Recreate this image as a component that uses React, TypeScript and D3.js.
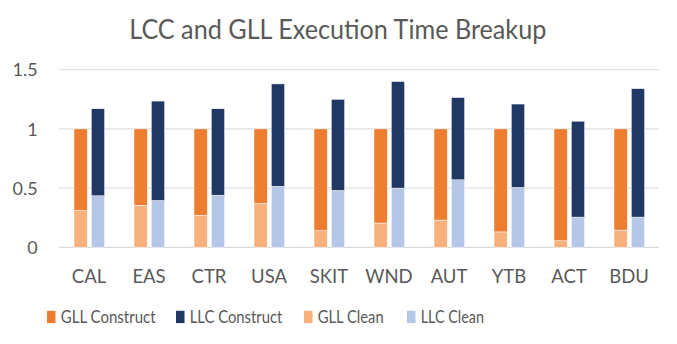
import React from "react";
import { scaleBand, scaleLinear } from "d3";

const categories = ["CAL", "EAS", "CTR", "USA", "SKIT", "WND", "AUT", "YTB", "ACT", "BDU"];
const gllClean = [0.31, 0.355, 0.27, 0.37, 0.14, 0.205, 0.23, 0.13, 0.055, 0.145];
const llcClean = [0.435, 0.395, 0.44, 0.515, 0.48, 0.5, 0.57, 0.505, 0.255, 0.255];
const llcTotal = [1.17, 1.235, 1.17, 1.38, 1.25, 1.4, 1.265, 1.21, 1.065, 1.34];
const yTicks = [0, 0.5, 1, 1.5];

const legend = [
  { label: "GLL Construct", color: "#ED7D31", x: 47, w: 95 },
  { label: "LLC Construct", color: "#1F3864", x: 176, w: 92.7 },
  { label: "GLL Clean", color: "#F8B07C", x: 304, w: 66 },
  { label: "LLC Clean", color: "#B4C7E7", x: 407, w: 63.3 },
];

const width = 677;
const height = 344;
const font = "Lato, 'Open Sans', sans-serif";

export default function App() {
  const x = scaleBand<string>().domain(categories).range([59, 659]);
  const y = scaleLinear().domain([0, 1.5]).range([247.3, 69.7]);
  const barW = 13.3;

  return (
    <svg width={width} height={height} style={{ position: "absolute", left: 0, top: 0, background: "#fff" }}>
      <text x={129.3} y={39.3} textLength={417} lengthAdjust="spacingAndGlyphs" fontFamily={font} fontSize={26} fill="#595959">
        LCC and GLL Execution Time Breakup
      </text>
      {yTicks.map((t) => (
        <g key={t}>
          <line x1={59} x2={659} y1={y(t)} y2={y(t)} stroke={t === 0 ? "#D0D0D0" : "#D9D9D9"} strokeWidth={1} />
          <text x={37.7} y={y(t) + 6.7} textAnchor="end" fontFamily={font} fontSize={18} fill="#595959">
            {t}
          </text>
        </g>
      ))}
      {categories.map((c, i) => {
        const x0 = (x(c) as number) + 15;
        const x1 = x0 + 17.3;
        const cx = (x(c) as number) + x.bandwidth() / 2;
        return (
          <g key={c}>
            <rect x={x0} y={y(gllClean[i])} width={barW} height={y(0) - y(gllClean[i])} fill="#F8B07C" stroke="#fff" strokeWidth={0.5} />
            <rect x={x0} y={y(1)} width={barW} height={y(gllClean[i]) - y(1)} fill="#ED7D31" stroke="#fff" strokeWidth={0.5} />
            <rect x={x1} y={y(llcClean[i])} width={barW} height={y(0) - y(llcClean[i])} fill="#B4C7E7" stroke="#fff" strokeWidth={0.5} />
            <rect x={x1} y={y(llcTotal[i])} width={barW} height={y(llcClean[i]) - y(llcTotal[i])} fill="#1F3864" stroke="#fff" strokeWidth={0.5} />
            <text x={cx} y={282.7} textAnchor="middle" fontFamily={font} fontSize={18.5} fill="#595959">
              {c}
            </text>
          </g>
        );
      })}
      {legend.map((l) => (
        <g key={l.label}>
          <rect x={l.x} y={310.8} width={8.5} height={12.3} fill={l.color} />
          <text x={l.x + 13.7} y={323.3} textLength={l.w} lengthAdjust="spacingAndGlyphs" fontFamily={font} fontSize={17} fill="#595959">
            {l.label}
          </text>
        </g>
      ))}
    </svg>
  );
}
